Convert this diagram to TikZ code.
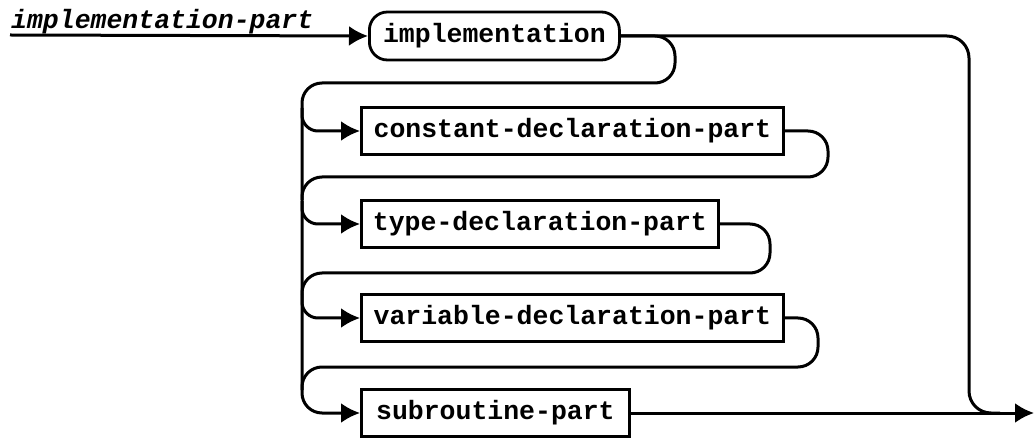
\documentclass[tikz,border=0pt]{standalone}
\usepackage{fontspec}
\setmonofont{Liberation Mono}
\usetikzlibrary{arrows.meta}
\begin{document}
\begin{tikzpicture}[x=1pt,y=-1pt,
  rail/.style={line width=3pt},
  railarrow/.style={rail,-{Latex[length=19pt,width=20pt]}},
  label/.style={font=\ttfamily\bfseries\fontsize{26.5}{30}\selectfont},
  term/.style={label,draw,line width=2.8pt,rounded corners=18pt,minimum height=48pt,inner xsep=4pt,anchor=west},
  nonterm/.style={label,draw,line width=2.8pt,minimum height=47pt,inner xsep=4pt,anchor=west},
]
\useasboundingbox (0,0) rectangle (1036,438);

% rule name
\node[label,font=\ttfamily\bfseries\itshape\fontsize{26.5}{30}\selectfont,anchor=base west,inner sep=0pt]
  (title) at (11,29) {implementation-part};
\coordinate (start) at (10,35);
\coordinate (end) at (1034,413);

% keyword and sub-parts
\node[term,minimum width=250pt] (impl) at (368,36) {implementation};
\node[nonterm,minimum width=422pt] (const) at (360,131) {constant-declaration-part};
\node[nonterm,minimum width=357pt] (type) at (360,224) {type-declaration-part};
\node[nonterm,minimum width=422pt] (var) at (360,318) {variable-declaration-part};
\node[nonterm,minimum width=268pt] (sub) at (360,413) {subroutine-part};

% entry
\draw[railarrow] (start) -- (impl.west);

% bypass on the right
\draw[rail,rounded corners=22pt] (impl.east) -- (969,36) -- (969,413) -- (1000,413);
\draw[railarrow] (sub.east) -- (end);

% left spine from the keyword down to the last part
\draw[railarrow,rounded corners=20pt] (impl.east) -- (675,36) -- (675,83) -- (302,83) -- (302,413) -- (sub.west);

% branches into each optional part
\draw[railarrow,rounded corners=16pt] (302,108) |- (const.west);
\draw[railarrow,rounded corners=16pt] (302,201) |- (type.west);
\draw[railarrow,rounded corners=16pt] (302,295) |- (var.west);

% returns back to the spine
\draw[rail,rounded corners=20pt] (const.east) -- (828,131) -- (828,177) -- (302,177) -- (302,200);
\draw[rail,rounded corners=20pt] (type.east) -- (770,224) -- (770,273) -- (302,273) -- (302,295);
\draw[rail,rounded corners=20pt] (var.east) -- (818,318) -- (818,367) -- (302,367) -- (302,390);
\end{tikzpicture}
\end{document}
